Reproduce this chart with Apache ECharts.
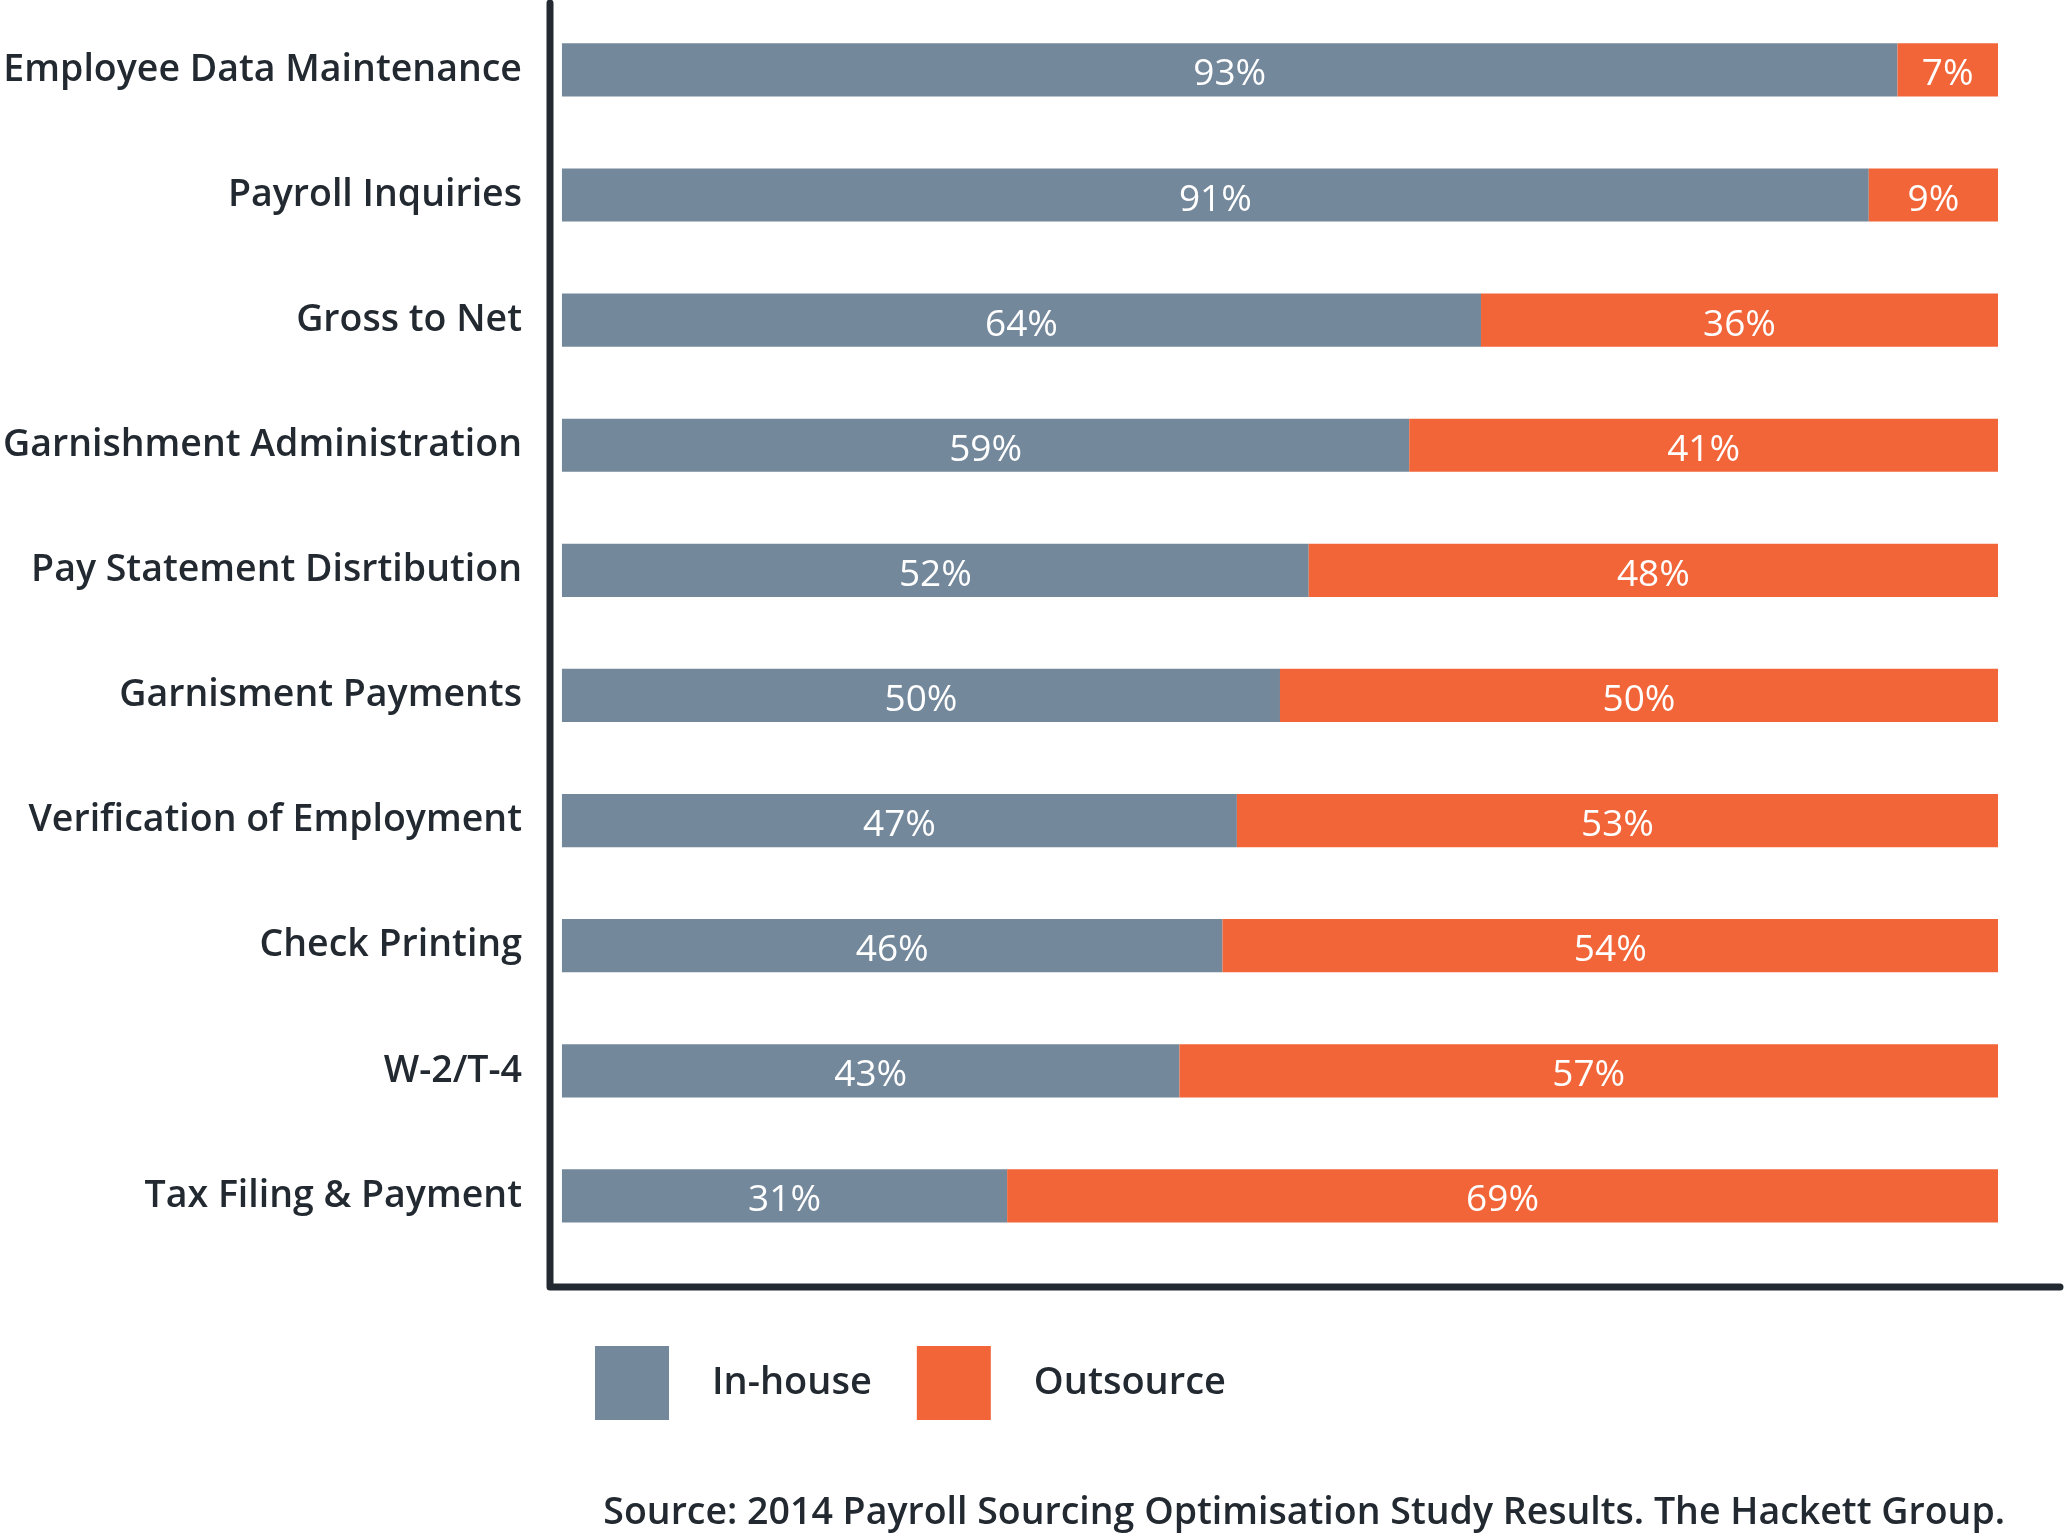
<!DOCTYPE html>
<html>
<head>
<meta charset="utf-8">
<style>
html,body{margin:0;padding:0;background:#fff;}
#chart{width:2064px;height:1533px;}
</style>
<script src="https://cdn.jsdelivr.net/npm/echarts@6/dist/echarts.min.js"></script>
</head>
<body>
<div id="chart"></div>
<script>
var categories = ['Employee Data Maintenance','Payroll Inquiries','Gross to Net','Garnishment Administration','Pay Statement Disrtibution','Garnisment Payments','Verification of Employment','Check Printing','W-2/T-4','Tax Filing & Payment'];
var inHouse = [93, 91, 64, 59, 52, 50, 47, 46, 43, 31];
var outsource = [7, 9, 36, 41, 48, 50, 53, 54, 57, 69];
var seriesNames = ['In-house', 'Outsource'];
var sourceText = 'Source: 2014 Payroll Sourcing Optimisation Study Results. The Hackett Group.';

var gridLeft = 553, gridRight = 66, gridTop = 7.3, gridBottom = 274.5;
var axisX = 550, axisTopY = 3, axisBottomY = 1287, axisRightX = 2060;
var dark = '#222930';
var font = '"Open Sans", "Noto Sans", sans-serif';

var chart = echarts.init(document.getElementById('chart'));
chart.setOption({
  animation: false,
  backgroundColor: '#ffffff',
  color: ['#74889b', '#f26539'],
  title: {
    text: sourceText,
    right: 54,
    top: 1489,
    textStyle: {fontFamily: font, fontSize: 37.5, fontWeight: 600, color: dark}
  },
  legend: {
    data: seriesNames,
    left: 590,
    top: 1341,
    icon: 'rect',
    itemWidth: 74,
    itemHeight: 74,
    itemGap: 45,
    textStyle: {fontFamily: font, fontSize: 38, fontWeight: 600, color: dark, padding: [18, 0, 0, 38]}
  },
  grid: {left: gridLeft, right: gridRight, top: gridTop, bottom: gridBottom, containLabel: false},
  xAxis: {
    type: 'value', min: 0, max: 100,
    show: false
  },
  yAxis: {
    type: 'category',
    data: categories,
    inverse: true,
    axisLine: {show: false},
    axisTick: {show: false},
    splitLine: {show: false},
    axisLabel: {fontFamily: font, fontSize: 37.5, fontWeight: 600, color: dark, margin: 40}
  },
  series: [
    {
      name: seriesNames[0], type: 'bar', stack: 'total', data: inHouse,
      barWidth: '42.5%',
      label: {show: true, position: 'inside', formatter: '{c}%', color: '#ffffff', fontFamily: font, fontSize: 37, offset: [0, 5]}
    },
    {
      name: seriesNames[1], type: 'bar', stack: 'total', data: outsource,
      barWidth: '42.5%',
      label: {show: true, position: 'inside', formatter: '{c}%', color: '#ffffff', fontFamily: font, fontSize: 37, offset: [0, 5]}
    }
  ],
  graphic: [{
    type: 'polyline',
    shape: {points: [[axisX, axisTopY], [axisX, axisBottomY], [axisRightX, axisBottomY]]},
    style: {stroke: dark, lineWidth: 7, fill: null, lineCap: 'round', lineJoin: 'round'},
    z: 10
  }]
});
</script>
</body>
</html>
